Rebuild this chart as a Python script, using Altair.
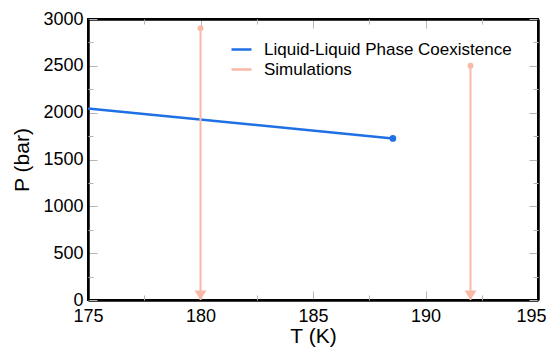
import altair as alt
import pandas as pd

# ---- data ----
T_line = [175.0, 188.55]
P_line = [2045, 1725]
T_sim = [180.0, 192.0]
P_sim_top = [2900, 2500]
P_sim_bottom = [0, 0]

series_names = ["Liquid-Liquid Phase Coexistence", "Simulations"]
series_colors = ["#1f6fe5", "#f9b9a6"]

x_major = [175, 180, 185, 190, 195]
x_minor = [177.5, 182.5, 187.5, 192.5]
y_major = [0, 500, 1000, 1500, 2000, 2500, 3000]
y_minor = [250, 750, 1250, 1750, 2250, 2750]

W, H = 450, 281
FONT = "Liberation Sans"
TICK_COLOR = "#b5b5b5"

df_line = pd.DataFrame({"T": T_line, "P": P_line, "series": series_names[0]})
df_end = df_line.tail(1)
df_sim = pd.DataFrame({"T": T_sim, "P": P_sim_top, "P0": P_sim_bottom, "series": series_names[1]})

xs = alt.Scale(domain=[175, 195], nice=False, zero=False)
ys = alt.Scale(domain=[0, 3000], nice=False, zero=False)
cs = alt.Scale(domain=series_names, range=series_colors)

x_lab = alt.Axis(orient="bottom", values=x_major, ticks=False, domain=False, grid=False,
                 labelFontSize=18, labelFont=FONT, labelColor="black", labelPadding=7,
                 labelFlush=False, labelOverlap=False, format="d",
                 labelOffset={"condition": {"test": "datum.value >= 195", "value": -7}, "value": 0},
                 title="T (K)", titleFont=FONT, titleFontSize=21, titleFontWeight="normal",
                 titleColor="black", titlePadding=0)
y_lab = alt.Axis(orient="left", values=y_major, ticks=False, domain=False, grid=False,
                 labelFontSize=18, labelFont=FONT, labelColor="black", labelPadding=5,
                 labelFlush=False, labelOverlap=False, format="d",
                 title="P (bar)", titleFont=FONT, titleFontSize=21, titleFontWeight="normal",
                 titleColor="black", titlePadding=10)


def tick_axis(orient, values, size, offset, frame):
    return alt.Axis(orient=orient, values=values, labels=False, domain=frame,
                    domainColor="#000000", domainWidth=2.5, domainOpacity=1, grid=False,
                    ticks=True, tickSize=size, tickColor=TICK_COLOR, tickWidth=1,
                    offset=offset, title=None)


line = alt.Chart(df_line).mark_line(strokeWidth=2.5).encode(
    x=alt.X("T:Q", scale=xs, axis=x_lab),
    y=alt.Y("P:Q", scale=ys, axis=y_lab),
    color=alt.Color("series:N", scale=cs, legend=alt.Legend(
        title=None, orient="none", legendX=142, legendY=19, padding=0,
        symbolType="stroke", symbolSize=400, symbolStrokeWidth=2.5,
        labelFont=FONT, labelFontSize=17, labelColor="black", labelOffset=11,
        labelLimit=0, rowPadding=0)),
)

end_dot = alt.Chart(df_end).mark_point(filled=True, shape="circle", size=45, opacity=1,
                                       color=series_colors[0]).encode(
    x=alt.X("T:Q", scale=xs, axis=None),
    y=alt.Y("P:Q", scale=ys, axis=None),
)

rules = alt.Chart(df_sim).mark_rule(strokeWidth=2).encode(
    x=alt.X("T:Q", scale=xs, axis=None),
    y=alt.Y("P:Q", scale=ys, axis=None),
    y2="P0:Q",
    color=alt.Color("series:N", scale=cs),
)

top_dots = alt.Chart(df_sim).mark_point(filled=True, shape="circle", size=36, opacity=1,
                                        color=series_colors[1]).encode(
    x=alt.X("T:Q", scale=xs, axis=None),
    y=alt.Y("P:Q", scale=ys, axis=None),
)

heads = alt.Chart(df_sim).mark_point(filled=True, shape="M-1,-1.6L1,-1.6L0,0Z", size=144,
                                     opacity=1, color=series_colors[1]).encode(
    x=alt.X("T:Q", scale=xs, axis=None),
    y=alt.Y("P0:Q", scale=ys, axis=None),
)


def tick_layer(xa, ya):
    return alt.Chart(df_line).mark_point(opacity=0).encode(
        x=alt.X("T:Q", scale=xs, axis=xa),
        y=alt.Y("P:Q", scale=ys, axis=ya),
    )


t1 = tick_layer(tick_axis("top", x_major, 9, -H, True), tick_axis("right", y_major, 9, -W, True))
t2 = tick_layer(tick_axis("top", x_minor, 5, -H, False), tick_axis("right", y_minor, 5, -W, False))
t3 = tick_layer(tick_axis("bottom", x_major, 9, -H, True), tick_axis("left", y_major, 9, -W, True))
t4 = tick_layer(tick_axis("bottom", x_minor, 5, -H, False), tick_axis("left", y_minor, 5, -W, False))

chart = alt.layer(t1, t2, t3, t4, line, rules, end_dot, top_dots, heads).resolve_axis(
    x="independent", y="independent"
).properties(
    width=W, height=H,
    autosize=alt.AutoSizeParams(type="none"),
    padding={"left": 80, "top": 11, "right": 8, "bottom": 48},
    background="white",
).configure_view(stroke="#000000", strokeWidth=2)

chart.save("out.html", embed_options={"renderer": "svg", "actions": False})
